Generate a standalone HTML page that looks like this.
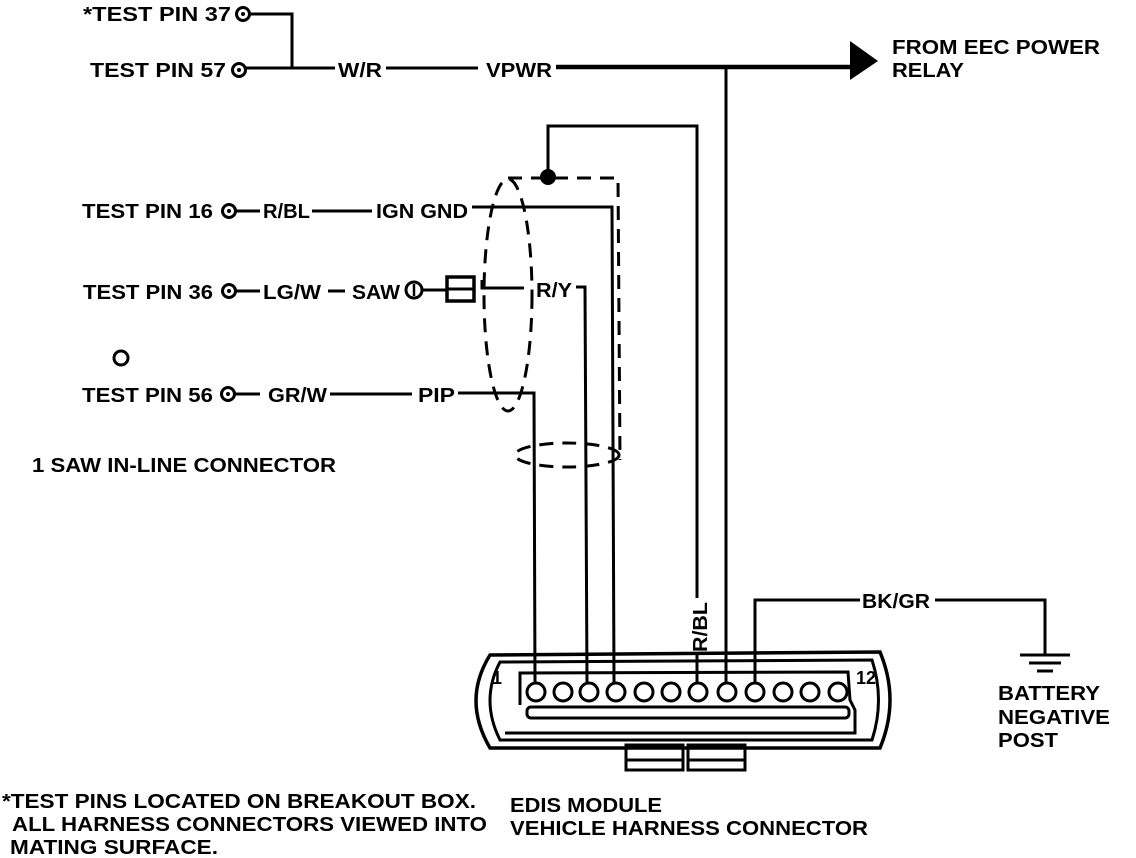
<!DOCTYPE html>
<html><head><meta charset="utf-8"><style>
html,body{margin:0;padding:0;background:#fff;}
svg{display:block;}
text{font-family:"Liberation Sans",sans-serif;font-weight:bold;font-size:20px;fill:#000;}
</style></head><body>
<svg width="1136" height="858" viewBox="0 0 1136 858" xmlns="http://www.w3.org/2000/svg">
<g fill="none" stroke="#000" stroke-width="3">
<circle cx="243" cy="14" r="6.5"/><circle cx="239" cy="70" r="6.5"/>
<polyline points="250,14 292,14 292,68"/>
<line x1="246" y1="68" x2="335" y2="68"/>
<line x1="386" y1="68" x2="478" y2="68"/>
<line x1="556" y1="67" x2="852" y2="67" stroke-width="4.5"/>
<line x1="726" y1="67" x2="726" y2="682"/>
<polyline points="548,176 548,126 697,126 697,598"/>
<line x1="697" y1="655" x2="697" y2="682"/>
<circle cx="229" cy="211" r="6.5"/>
<line x1="236" y1="211" x2="260" y2="211"/>
<line x1="312" y1="211" x2="372" y2="211"/>
<polyline points="472,207 612,207 614,682"/>
<circle cx="229" cy="291" r="6.5"/>
<line x1="236" y1="291" x2="260" y2="291"/>
<line x1="328" y1="291" x2="345" y2="291"/>
<circle cx="414" cy="290" r="8"/>
<line x1="422" y1="290" x2="446" y2="290"/>
<rect x="447" y="277" width="27" height="24" stroke-width="3.5"/>
<line x1="447" y1="289" x2="474" y2="289"/>
<polyline points="482,280 482,288 524,288"/>
<polyline points="576,287 585,287 587,682"/>
<circle cx="121" cy="358" r="7"/>
<circle cx="228" cy="394" r="6.5"/>
<line x1="235" y1="394" x2="260" y2="394"/>
<line x1="330" y1="394" x2="412" y2="394"/>
<polyline points="458,393 534,393 535,682"/>
<g stroke-dasharray="14,9">
<ellipse cx="508" cy="295" rx="24" ry="116"/>
<polyline points="508,178 618,178 620,460"/>
<ellipse cx="567" cy="455" rx="52" ry="12"/>
</g>
<polyline points="755,682 755,600 860,600"/>
<polyline points="935,600 1045,600 1045,655"/>
<line x1="1020" y1="655" x2="1070" y2="655"/>
<line x1="1029" y1="663" x2="1061" y2="663"/>
<line x1="1037" y1="671" x2="1053" y2="671"/>
<path d="M490,655 L880,652 Q900,700 880,748 L490,748 Q462,700 490,655 Z" stroke-width="3.5"/>
<path d="M500,662 L872,660 Q885,700 872,740 L500,740 Q480,700 500,662 Z"/>
<polyline points="520,705 520,673 848,672 850,700 855,710 855,733 505,733"/>
<rect x="527" y="707" width="322" height="11" rx="4"/>
<rect x="626" y="745" width="57" height="25"/><line x1="626" y1="760" x2="683" y2="760"/>
<rect x="688" y="745" width="57" height="25"/><line x1="688" y1="760" x2="745" y2="760"/>
</g>
<g fill="#fff" stroke="#000" stroke-width="3">
<circle cx="536" cy="692" r="9"/><circle cx="563" cy="692" r="9"/><circle cx="589" cy="692" r="9"/>
<circle cx="616" cy="692" r="9"/><circle cx="644" cy="692" r="9"/><circle cx="671" cy="692" r="9"/>
<circle cx="698" cy="692" r="9"/><circle cx="727" cy="692" r="9"/><circle cx="755" cy="692" r="9"/>
<circle cx="783" cy="692" r="9"/><circle cx="810" cy="692" r="9"/><circle cx="838" cy="692" r="9"/>
</g>
<g fill="#000">
<circle cx="243" cy="14" r="2"/><circle cx="239" cy="70" r="2"/><circle cx="229" cy="211" r="2"/>
<circle cx="229" cy="291" r="2"/><circle cx="228" cy="394" r="2"/>
<circle cx="548" cy="177" r="8"/>
<polygon points="850,41 850,80 878,61"/>
<line x1="414" y1="284" x2="414" y2="296" stroke="#000" stroke-width="2.5"/>
</g>
<g lengthAdjust="spacingAndGlyphs">
<text x="83" y="21" textLength="148" lengthAdjust="spacingAndGlyphs">*TEST PIN 37</text>
<text x="90" y="77" textLength="136" lengthAdjust="spacingAndGlyphs">TEST PIN 57</text>
<text x="338" y="77" textLength="44" lengthAdjust="spacingAndGlyphs">W/R</text>
<text x="486" y="77" textLength="66" lengthAdjust="spacingAndGlyphs">VPWR</text>
<text x="892" y="54" textLength="208" lengthAdjust="spacingAndGlyphs">FROM EEC POWER</text>
<text x="892" y="77" textLength="72" lengthAdjust="spacingAndGlyphs">RELAY</text>
<text x="82" y="218" textLength="131" lengthAdjust="spacingAndGlyphs">TEST PIN 16</text>
<text x="263" y="218" textLength="47" lengthAdjust="spacingAndGlyphs">R/BL</text>
<text x="376" y="218" textLength="92" lengthAdjust="spacingAndGlyphs">IGN GND</text>
<text x="83" y="299" textLength="130" lengthAdjust="spacingAndGlyphs">TEST PIN 36</text>
<text x="263" y="299" textLength="58" lengthAdjust="spacingAndGlyphs">LG/W</text>
<text x="352" y="299" textLength="48" lengthAdjust="spacingAndGlyphs">SAW</text>
<text x="536" y="297" textLength="36" lengthAdjust="spacingAndGlyphs">R/Y</text>
<text x="82" y="402" textLength="131" lengthAdjust="spacingAndGlyphs">TEST PIN 56</text>
<text x="268" y="402" textLength="59" lengthAdjust="spacingAndGlyphs">GR/W</text>
<text x="418" y="402" textLength="37" lengthAdjust="spacingAndGlyphs">PIP</text>
<text x="32" y="472" textLength="304" lengthAdjust="spacingAndGlyphs">1 SAW IN-LINE CONNECTOR</text>
<text transform="translate(707,652) rotate(-90)" textLength="50" lengthAdjust="spacingAndGlyphs">R/BL</text>
<text x="862" y="608" textLength="68" lengthAdjust="spacingAndGlyphs">BK/GR</text>
<text x="492" y="684" style="font-size:18px">1</text>
<text x="856" y="684" style="font-size:18px">12</text>
<text x="998" y="700" textLength="102" lengthAdjust="spacingAndGlyphs">BATTERY</text>
<text x="998" y="724" textLength="112" lengthAdjust="spacingAndGlyphs">NEGATIVE</text>
<text x="998" y="747" textLength="60" lengthAdjust="spacingAndGlyphs">POST</text>
<text x="2" y="808" textLength="474" lengthAdjust="spacingAndGlyphs">*TEST PINS LOCATED ON BREAKOUT BOX.</text>
<text x="12" y="831" textLength="475" lengthAdjust="spacingAndGlyphs">ALL HARNESS CONNECTORS VIEWED INTO</text>
<text x="10" y="854" textLength="208" lengthAdjust="spacingAndGlyphs">MATING SURFACE.</text>
<text x="510" y="812" textLength="152" lengthAdjust="spacingAndGlyphs">EDIS MODULE</text>
<text x="510" y="835" textLength="358" lengthAdjust="spacingAndGlyphs">VEHICLE HARNESS CONNECTOR</text>
</g>
</svg>
</body></html>
